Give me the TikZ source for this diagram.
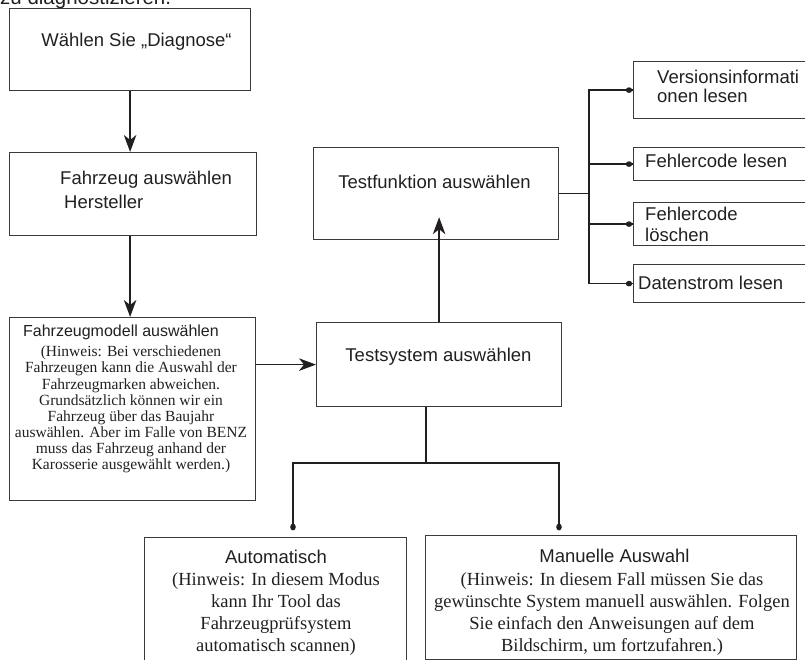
\documentclass[tikz,border=0pt]{standalone}
\usepackage{fontspec}
\setmainfont{Liberation Serif}
\setsansfont{Liberation Sans}
\usetikzlibrary{arrows.meta,calc}
\definecolor{ink}{HTML}{231F20}
\definecolor{edgegray}{HTML}{3A3A3A}
\tikzset{
  box/.style={draw=edgegray, line width=1.2pt, rectangle, inner sep=0pt, anchor=north west},
  conn/.style={draw=ink, line width=1.5pt},
  arr/.style={conn, -{Stealth[length=17pt,width=12.5pt,inset=5pt]}},
  sanstext/.style={text=ink, inner sep=0pt, font=\sffamily\fontsize{18.5}{24}\selectfont},
  sansmid/.style={text=ink, inner sep=0pt, font=\sffamily\fontsize{16}{20}\selectfont},
  serifsmall/.style={text=ink, inner sep=0pt, align=center, font=\rmfamily\fontsize{15.5}{16.1}\selectfont},
  serifbig/.style={text=ink, inner sep=0pt, align=center, font=\rmfamily\fontsize{18.5}{22}\selectfont},
}
\begin{document}
\begin{tikzpicture}[x=1pt,y=-1pt]
\useasboundingbox (0,0) rectangle (805,660);

% top cut-off text
\node[sanstext, anchor=base west, font=\sffamily\fontsize{20.5}{24}\selectfont] (toptext) at (0,4.5) {zu diagnostizieren.};

% boxes
\node[box, minimum width=241pt, minimum height=82pt] (b1) at (9,8) {};
\node[box, minimum width=247pt, minimum height=83pt] (b2) at (9,152) {};
\node[box, minimum width=246pt, minimum height=183pt] (b3) at (9,317) {};
\node[box, minimum width=245pt, minimum height=92pt] (tf) at (313,147) {};
\node[box, minimum width=245pt, minimum height=84pt] (ts) at (316,322) {};
\node[box, minimum width=200pt, minimum height=57pt] (V) at (633,61) {};
\node[box, minimum width=200pt, minimum height=33pt] (F) at (633,147) {};
\node[box, minimum width=200pt, minimum height=43pt] (FL) at (633,202) {};
\node[box, minimum width=200pt, minimum height=38pt] (D) at (633,264) {};
\node[box, minimum width=262pt, minimum height=140pt] (auto) at (144,537) {};
\node[box, minimum width=371pt, minimum height=124pt] (man) at (425,535) {};

% texts
\node[sanstext] (t1) at (136.5,42) {Wählen Sie „Diagnose“};
\node[sanstext, anchor=west, align=left] (t2) at (60,190) {Fahrzeug auswählen\\\hspace*{4pt}Hersteller};
\node[sansmid] (t3a) at (121,332) {Fahrzeugmodell auswählen};
\node[serifsmall] (t3b) at (131,409.5) {(Hinweis: Bei verschiedenen\\Fahrzeugen kann die Auswahl der\\Fahrzeugmarken abweichen.\\Grundsätzlich können wir ein\\Fahrzeug über das Baujahr\\auswählen. Aber im Falle von BENZ\\muss das Fahrzeug anhand der\\Karosserie ausgewählt werden.)};
\node[sanstext] (ttf) at (434.5,182) {Testfunktion auswählen};
\node[sanstext] (tts) at (438.5,357) {Testsystem auswählen};
\node[sanstext, anchor=west, align=left, font=\sffamily\fontsize{18.5}{19}\selectfont] (tV) at (657,86.5) {Versionsinformati\\onen lesen};
\node[sanstext, anchor=west] (tF) at (645,161) {Fehlercode lesen};
\node[sanstext, anchor=west, align=left, font=\sffamily\fontsize{18.5}{21}\selectfont] (tFL) at (645,224.5) {Fehlercode\\löschen};
\node[sanstext, anchor=west] (tD) at (638,283) {Datenstrom lesen};
\node[sanstext] (tAa) at (276,557) {Automatisch};
\node[serifbig] (tAb) at (276,614) {(Hinweis: In diesem Modus\\kann Ihr Tool das\\Fahrzeugprüfsystem\\automatisch scannen)};
\node[sanstext] (tMa) at (614.5,556) {Manuelle Auswahl};
\node[serifbig] (tMb) at (612,614) {(Hinweis: In diesem Fall müssen Sie das\\gewünschte System manuell auswählen. Folgen\\Sie einfach den Anweisungen auf dem\\Bildschirm, um fortzufahren.)};

% left column arrows
\draw[arr] (b1.south) -- (b1.south |- b2.north);
\draw[arr] (b1.south |- b2.south) -- (b1.south |- b3.north);
\draw[arr] (b3.east |- ts.west) -- (ts.west);

% up arrow into Testfunktion
\coordinate (tip) at ($(ts.north |- tf.south)+(0,-23)$);
\draw[arr] (ts.north) -- (tip);

% right bus
\coordinate (bus) at (589,193);
\draw[conn] (tf.east) -- (tf.east -| bus);
\draw[conn] (V.west) -| (bus |- D.west) -- (D.west);
\draw[conn] (F.west) -- (bus |- F.west);
\draw[conn] (FL.west) -- (bus |- FL.west);
\foreach \n in {V,F,FL,D} {\fill[ink] ($(\n.west)+(-4,0)$) ellipse (3.2pt and 2.8pt);}

% bottom split
\coordinate (split) at (426,463);
\coordinate (aD) at (293,527);
\coordinate (mD) at (559,527);
\draw[conn] (ts.south -| split) -- (split);
\draw[conn] (aD) |- (split) -| (mD);
\fill[ink] (aD) ellipse (2.8pt and 3.4pt);
\fill[ink] (mD) ellipse (2.8pt and 3.4pt);
\end{tikzpicture}
\end{document}
